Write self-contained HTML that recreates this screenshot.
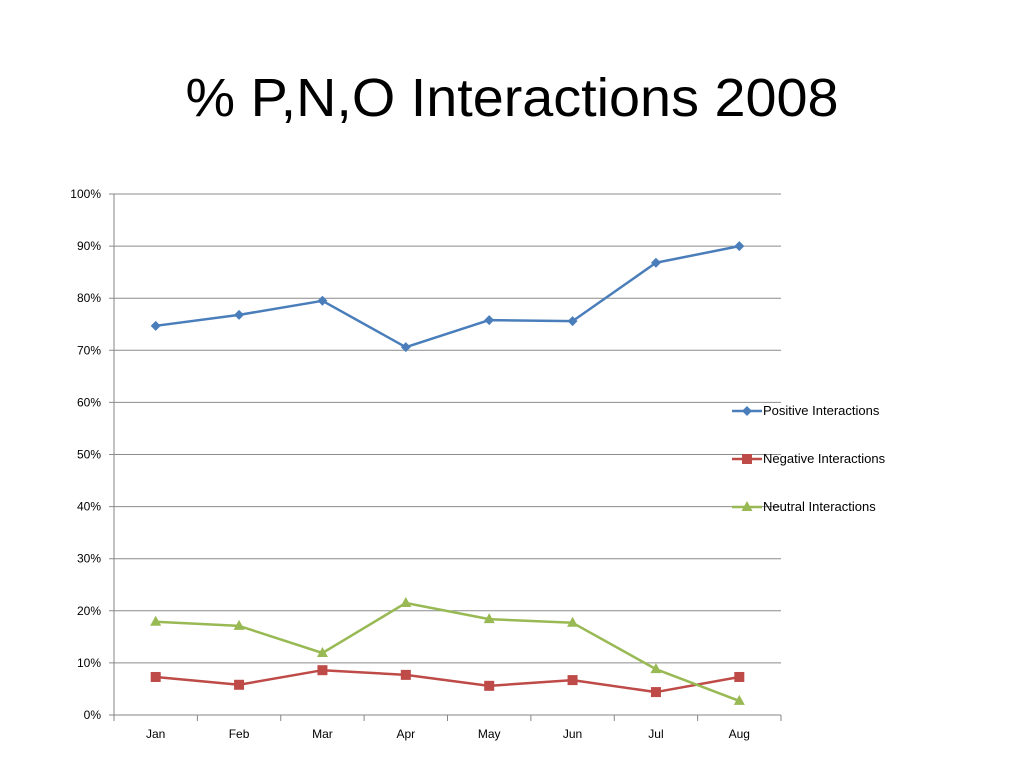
<!DOCTYPE html>
<html><head><meta charset="utf-8"><style>
body{margin:0;background:#fff;width:1024px;height:768px;overflow:hidden;font-family:"Liberation Sans",sans-serif}
</style></head><body>
<svg width="1024" height="768">
<text x="512" y="116" text-anchor="middle" font-size="54" textLength="653" lengthAdjust="spacingAndGlyphs" font-family="Liberation Sans, sans-serif">% P,N,O Interactions 2008</text>
<g id="grid"></g><g id="series"></g><g id="legend"></g>
</svg>
<script>
const months=["Jan","Feb","Mar","Apr","May","Jun","Jul","Aug"];
const yTicks=[0,10,20,30,40,50,60,70,80,90,100];
const positive=[74.7,76.8,79.5,70.6,75.8,75.6,86.8,90.0];
const negative=[7.3,5.8,8.6,7.7,5.6,6.7,4.4,7.3];
const neutral=[17.9,17.1,11.9,21.5,18.4,17.7,8.8,2.7];
const NS="http://www.w3.org/2000/svg";
const L=114,R=781,T=194,B=715;
const y=v=>B-(v/100)*(B-T);
const step=(R-L)/months.length;
const x=i=>L+step*(i+0.5);
function mk(tag,attrs,parent){const e=document.createElementNS(NS,tag);for(const k in attrs)e.setAttribute(k,attrs[k]);parent.appendChild(e);return e;}
const grid=document.getElementById('grid');
yTicks.forEach(t=>{
  const l=mk('line',{x1:L-5,x2:R,y1:y(t),y2:y(t),stroke:t===0?'#868686':'#8c8c8c','stroke-width':1},grid);
  
  
  const tx=mk('text',{x:L-13,y:y(t)+4,'text-anchor':'end','font-size':12},grid);
  tx.textContent=t+'%';
  
  
});
const ax=mk('line',{x1:L,x2:L,y1:T,y2:B,stroke:'#868686'},grid);


for(let i=0;i<=months.length;i++){
  const tk=mk('line',{x1:L+step*i,x2:L+step*i,y1:B,y2:B+6,stroke:'#868686'},grid);
  
  
}
months.forEach((m,i)=>{
  const tx=mk('text',{x:x(i),y:B+23,'text-anchor':'middle','font-size':12},grid);
  tx.textContent=m;
  
  
});
function marker(g,shape,cx,cy,color){
  let e;
  if(shape==='diamond')e=mk('polygon',{points:`${cx},${cy-5} ${cx+5},${cy} ${cx},${cy+5} ${cx-5},${cy}`,fill:color},g);
  else if(shape==='square')e=mk('rect',{x:cx-5,y:cy-5,width:10,height:10,fill:color},g);
  else e=mk('polygon',{points:`${cx},${cy-6} ${cx+5.5},${cy+4} ${cx-5.5},${cy+4}`,fill:color},g);
  return e;
}
const seriesDefs=[["positive",positive,"#4a7ebb","diamond","Positive Interactions",411],["negative",negative,"#be4b48","square","Negative Interactions",459],["neutral",neutral,"#98b954","triangle","Neutral Interactions",507]];
const sg=document.getElementById('series'),lg=document.getElementById('legend');
seriesDefs.forEach(([nm,data,c,sh,label,ly])=>{
  const g=mk('g',{},sg);
  
  
  const p=mk('polyline',{points:data.map((v,i)=>x(i)+','+y(v)).join(' '),fill:'none',stroke:c,'stroke-width':2.5,'stroke-linejoin':'round'},g);
  
  
  data.forEach((v,i)=>{
    const m=marker(g,sh,x(i),y(v),c);
    
    
  });
  const le=mk('g',{},lg);
  
  
  mk('line',{x1:732,x2:762,y1:ly,y2:ly,stroke:c,'stroke-width':2.5},le);
  marker(le,sh,747,ly,c);
  const t=mk('text',{x:763,y:ly+4,'font-size':13},le);
  t.textContent=label;
});
</script>
</body></html>
